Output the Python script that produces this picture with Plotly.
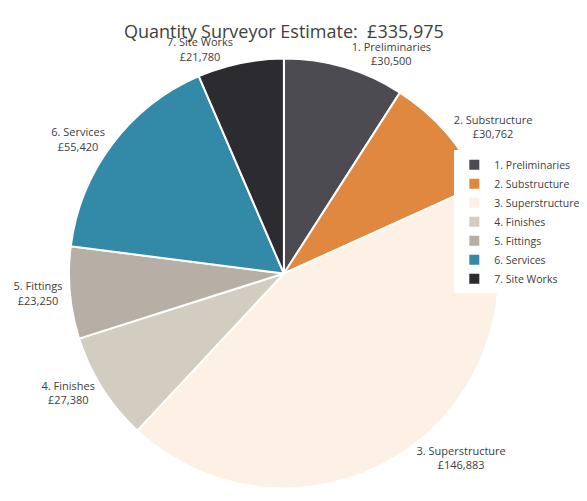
import plotly.graph_objects as go

categories = ["1. Preliminaries", "2. Substructure", "3. Superstructure", "4. Finishes",
              "5. Fittings", "6. Services", "7. Site Works"]
values = [30500, 30762, 146883, 27380, 23250, 55420, 21780]
colors = ["#4b4b51", "#e0883f", "#fdf0e4", "#d3cdc1", "#b7aea5", "#338aa8", "#2b2b30"]

text = [f"{c}<br>£{v:,}" for c, v in zip(categories, values)]

fig = go.Figure(go.Pie(
    labels=categories, values=values, text=text,
    textinfo="text", textposition="outside",
    sort=False, direction="clockwise", rotation=0,
    marker=dict(colors=colors, line=dict(color="white", width=2)),
    textfont=dict(size=11, color="#404040"),
    domain=dict(x=[0.0, 0.87], y=[0.0, 1.0]),
))
fig.update_layout(
    width=587, height=501,
    title=dict(text="Quantity Surveyor Estimate:  £335,975", x=0.47, y=0.965,
               font=dict(size=18, color="#404040")),
    font=dict(family="Open Sans, sans-serif"),
    legend=dict(x=0.78, y=0.62, font=dict(size=10.5, color="#404040"),
                itemwidth=30, tracegroupgap=0),
    margin=dict(l=10, r=10, t=50, b=20),
    paper_bgcolor="white",
)
fig.write_html("out.html")
